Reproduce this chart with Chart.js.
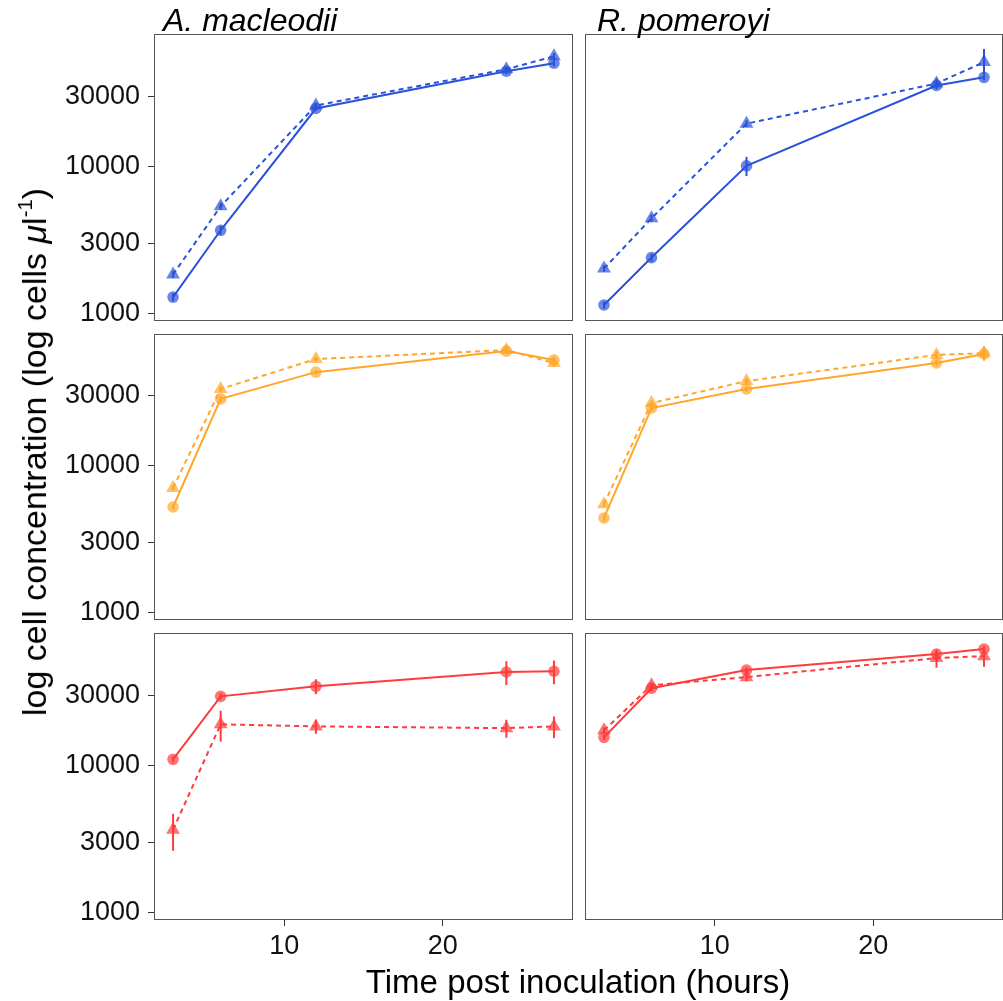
<!DOCTYPE html>
<html>
<head>
<meta charset="utf-8">
<script src="https://cdn.jsdelivr.net/npm/chart.js@4.4.0/dist/chart.umd.min.js"></script>
<style>
  body { margin: 0; background: #fff; width: 1003px; height: 1001px; overflow: hidden; position: relative;
         font-family: 'Liberation Sans', Arial, sans-serif; color: #000; }
  .panel { position: absolute; }
  .lbl { position: absolute; white-space: nowrap; font-size: 33px; line-height: 33px; z-index: 2; }
  .strip { font-style: italic; font-size: 32px; line-height: 32px; }
  sup { font-size: 60%; vertical-align: 0.7em; line-height: 0; }
</style>
</head>
<body>
<div class="lbl strip" style="left:163px; top:4px;">A. macleodii</div>
<div class="lbl strip" style="left:597px; top:4px;">R. pomeroyi</div>
<div class="lbl" style="left:578px; top:965px; transform:translateX(-50%);">Time post inoculation (hours)</div>
<div class="lbl" style="left:34px; top:452px; font-size:34px; line-height:34px; transform:translate(-50%,-50%) rotate(-90deg);">log cell concentration (log cells <i>μ</i>l<sup>-1</sup>)</div>

<script>
// sampling times (hours)
const hours = [3, 6, 12, 24, 27];
const yTicks = [1000, 3000, 10000, 30000];
const xTicks = [10, 20];

// top row (blue) - circles = solid line, triangles = dashed line
const amBlueCircle = [1300, 3690, 24700, 44200, 50100];
const amBlueCircleSE = [80, 250, 1000, 2000, 2500];
const amBlueTriangle = [1850, 5370, 25900, 45600, 55800];
const amBlueTriangleSE = [100, 300, 1200, 2000, 3000];
const rpBlueCircle = [1150, 2410, 10100, 35400, 40200];
const rpBlueCircleSE = [60, 150, 1500, 2000, 2000];
const rpBlueTriangle = [2030, 4450, 19500, 36500, 51000];
const rpBlueTriangleSE = [100, 250, 1000, 3000, 11500];

// middle row (orange)
const amOrangeCircle = [5260, 28600, 43500, 60500, 52600];
const amOrangeCircleSE = [200, 1200, 1500, 2500, 2500];
const amOrangeTriangle = [7080, 33400, 53400, 61500, 50200];
const amOrangeTriangleSE = [300, 1500, 2000, 2500, 2500];
const rpOrangeCircle = [4430, 24800, 33400, 50200, 57800];
const rpOrangeCircleSE = [200, 1000, 1500, 2500, 2500];
const rpOrangeTriangle = [5500, 26800, 37800, 57000, 58500];
const rpOrangeTriangleSE = [250, 1200, 2000, 3500, 6500];

// bottom row (red)
const amRedCircle = [11000, 29400, 34400, 43000, 43500];
const amRedCircleSE = [500, 1500, 4000, 7900, 8000];
const amRedTriangle = [3670, 19000, 18400, 17900, 18400];
const amRedTriangleSE = [1030, 4500, 2000, 2500, 3100];
const rpRedCircle = [15500, 33400, 44300, 56900, 61500];
const rpRedCircleSE = [700, 1500, 2000, 3000, 3000];
const rpRedTriangle = [17300, 35000, 39700, 53500, 55100];
const rpRedTriangleSE = [800, 1500, 2500, 7500, 8500];

const colours = {
  blue: [42, 82, 218],
  orange: [255, 166, 43],
  red: [255, 59, 59]
};

// panel geometry (page pixels)
const colLeft = [154, 585];
const colRight = [573, 1003];
const rowTop = [34, 334, 633];
const rowBottom = [321, 620, 920];
const yMin = Math.pow(10, 2.952);
const yMax = Math.pow(10, 4.898);

const panels = [
  { row: 0, col: 0, c: 'blue', circ: amBlueCircle, circSE: amBlueCircleSE, tri: amBlueTriangle, triSE: amBlueTriangleSE },
  { row: 0, col: 1, c: 'blue', circ: rpBlueCircle, circSE: rpBlueCircleSE, tri: rpBlueTriangle, triSE: rpBlueTriangleSE },
  { row: 1, col: 0, c: 'orange', circ: amOrangeCircle, circSE: amOrangeCircleSE, tri: amOrangeTriangle, triSE: amOrangeTriangleSE },
  { row: 1, col: 1, c: 'orange', circ: rpOrangeCircle, circSE: rpOrangeCircleSE, tri: rpOrangeTriangle, triSE: rpOrangeTriangleSE },
  { row: 2, col: 0, c: 'red', circ: amRedCircle, circSE: amRedCircleSE, tri: amRedTriangle, triSE: amRedTriangleSE },
  { row: 2, col: 1, c: 'red', circ: rpRedCircle, circSE: rpRedCircleSE, tri: rpRedTriangle, triSE: rpRedTriangleSE }
];

Chart.defaults.font.family = "'Liberation Sans', Arial, sans-serif";
Chart.defaults.color = '#000';

// vertical error bars, no caps
const errorBars = {
  id: 'errorBars',
  beforeDatasetsDraw(chart) {
    const { ctx, scales: { x, y } } = chart;
    chart.data.datasets.forEach(ds => {
      ctx.save();
      ctx.strokeStyle = ds.borderColor;
      ctx.lineWidth = 2;
      ds.data.forEach((pt, i) => {
        const se = ds.se[i];
        if (!se) return;
        const px = x.getPixelForValue(pt.x);
        ctx.beginPath();
        ctx.moveTo(px, y.getPixelForValue(pt.y - se));
        ctx.lineTo(px, y.getPixelForValue(pt.y + se));
        ctx.stroke();
      });
      ctx.restore();
    });
  }
};

const panelBorder = {
  id: 'panelBorder',
  afterDraw(chart) {
    const { ctx, chartArea: a } = chart;
    ctx.save();
    ctx.strokeStyle = '#555';
    ctx.lineWidth = 1;
    ctx.strokeRect(a.left + 0.5, a.top + 0.5, a.right - a.left - 1, a.bottom - a.top - 1);
    ctx.restore();
  }
};

function noPad(s) {
  s.paddingTop = 0; s.paddingBottom = 0; s.paddingLeft = 0; s.paddingRight = 0;
}

function series(vals, se, rgb, dashed) {
  const col = `rgb(${rgb.join(',')})`;
  return {
    data: hours.map((h, i) => ({ x: h, y: vals[i] })),
    se: se,
    borderColor: col,
    borderWidth: 2,
    borderDash: dashed ? [5, 4] : [],
    pointStyle: dashed ? 'triangle' : 'circle',
    pointRadius: dashed ? 8 : 5.8,
    pointBackgroundColor: `rgba(${rgb.join(',')},0.7)`,
    pointBorderWidth: 0,
    tension: 0,
    fill: false
  };
}

panels.forEach(p => {
  const showX = p.row === 2;
  const showY = p.col === 0;
  const left = showY ? 0 : colLeft[1];
  const width = colRight[p.col] - left;
  const top = rowTop[p.row];
  const plotH = rowBottom[p.row] - top;
  const xAxisH = 50;
  const height = showX ? plotH + xAxisH : plotH;

  const box = document.createElement('div');
  box.className = 'panel';
  box.style.left = left + 'px';
  box.style.top = top + 'px';
  box.style.width = width + 'px';
  box.style.height = height + 'px';
  const cv = document.createElement('canvas');
  box.appendChild(cv);
  document.body.appendChild(box);

  const rgb = colours[p.c];
  new Chart(cv.getContext('2d'), {
    type: 'line',
    data: {
      datasets: [
        series(p.circ, p.circSE, rgb, false),
        series(p.tri, p.triSE, rgb, true)
      ]
    },
    plugins: [errorBars, panelBorder],
    options: {
      responsive: true,
      maintainAspectRatio: false,
      animation: false,
      layout: { padding: 0, autoPadding: false },
      plugins: { legend: { display: false }, tooltip: { enabled: false } },
      scales: {
        x: {
          type: 'linear',
          min: 1.8,
          max: 28.2,
          display: showX,
          afterBuildTicks: s => { s.ticks = xTicks.map(v => ({ value: v })); },
          afterFit: s => { if (showX) s.height = xAxisH; noPad(s); },
          grid: { drawOnChartArea: false, drawTicks: true, tickLength: 6, color: '#333', lineWidth: 1 },
          border: { display: false },
          ticks: { font: { size: 27 }, color: '#111', padding: 4, maxRotation: 0 }
        },
        y: {
          type: 'logarithmic',
          min: yMin,
          max: yMax,
          display: showY,
          afterBuildTicks: s => { s.ticks = yTicks.map(v => ({ value: v })); },
          afterFit: s => { if (showY) s.width = colLeft[0]; noPad(s); },
          grid: { drawOnChartArea: false, drawTicks: true, tickLength: 6, color: '#333', lineWidth: 1 },
          border: { display: false },
          ticks: { font: { size: 27 }, color: '#111', padding: 8, callback: v => String(v) }
        }
      }
    }
  });
});
</script>
</body>
</html>
